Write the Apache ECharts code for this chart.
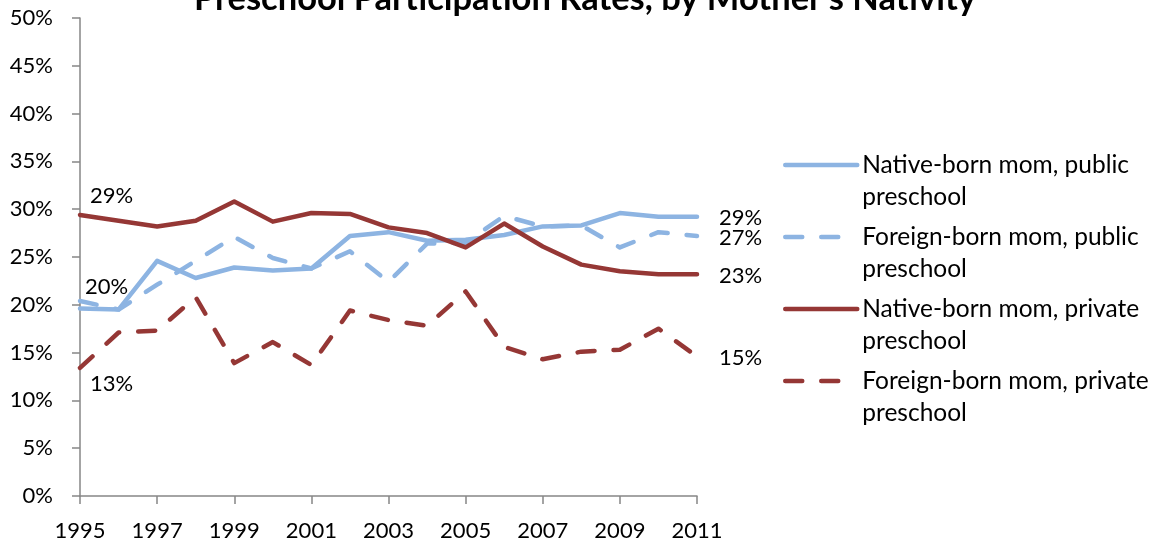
<!DOCTYPE html>
<html>
<head>
<meta charset="utf-8">
<script src="https://cdn.jsdelivr.net/npm/echarts@6/dist/echarts.min.js"></script>
<style>
  html, body { margin: 0; padding: 0; background: #fff; }
  #main { width: 1159px; height: 546px; }
</style>
</head>
<body>
<div id="main"></div>
<script>
// years on the x axis
const years = ["1995", "1996", "1997", "1998", "1999", "2000", "2001", "2002", "2003",
  "2004", "2005", "2006", "2007", "2008", "2009", "2010", "2011"];

// participation rates, percent
const nativePublic = [19.6, 19.5, 24.6, 22.8, 23.9, 23.6, 23.8, 27.2, 27.6, 26.7, 26.8, 27.3, 28.2, 28.3, 29.6, 29.2, 29.2];
const foreignPublic = [20.4, 19.5, 22.1, 24.6, 27.1, 24.9, 23.8, 25.6, 22.4, 26.4, 26.5, 29.3, 28.2, 28.3, 26.0, 27.6, 27.2];
const nativePrivate = [29.4, 28.8, 28.2, 28.8, 30.8, 28.7, 29.6, 29.5, 28.1, 27.5, 26.0, 28.5, 26.1, 24.2, 23.5, 23.2, 23.2];
const foreignPrivate = [13.4, 17.1, 17.3, 20.8, 13.9, 16.1, 13.7, 19.4, 18.4, 17.8, 21.4, 15.6, 14.3, 15.1, 15.3, 17.5, 14.6];

const seriesNames = [
  "Native-born mom, public preschool",
  "Foreign-born mom, public preschool",
  "Native-born mom, private preschool",
  "Foreign-born mom, private preschool"
];

const FONT = "Lato";
const blue = "#8db4e2";
const red = "#953735";
const dash = [17, 19];

// first / last point labels
function withLabels(vals, first, lastOffset) {
  return vals.map(function (v, i) {
    if (i === 0 && first) {
      return { value: v, label: { show: true, position: "right", distance: first.distance, offset: first.offset } };
    }
    if (i === vals.length - 1) {
      return { value: v, label: { show: true, position: "right", distance: 22, offset: [0, lastOffset] } };
    }
    return v;
  });
}

function lineSeries(name, vals, color, type, first, lastOffset) {
  return {
    name: name,
    type: "line",
    symbol: "circle",
    symbolSize: 0,
    showAllSymbol: true,
    lineStyle: { color: color, width: 4.5, type: type, cap: "round", join: "round" },
    itemStyle: { color: color },
    label: {
      show: false,
      color: "#000",
      fontFamily: FONT,
      fontSize: 22,
      formatter: function (p) { return Math.round(p.value) + "%"; }
    },
    data: withLabels(vals, first, lastOffset)
  };
}

let myChart = echarts.init(document.getElementById("main"));

let option = {
  backgroundColor: "#fff",
  animation: false,
  title: {
    text: "Preschool Participation Rates, by Mother's Nativity",
    left: 580,
    textAlign: "center",
    top: -24,
    textStyle: { fontFamily: FONT, fontSize: 34.5, fontWeight: "bold", color: "#000" }
  },
  grid: { left: 80, right: 462, top: 18, bottom: 50, containLabel: false },
  legend: {
    orient: "vertical",
    left: 783,
    top: 117,
    padding: 0,
    itemWidth: 72,
    itemHeight: 14,
    itemGap: -24,
    itemStyle: { opacity: 0 },
    lineStyle: { width: 4.5, cap: "round" },
    data: seriesNames,
    // blank first line keeps the icon level with the first text line
    formatter: function (name) { return " \n" + name.replace(" preschool", "\npreschool"); },
    textStyle: {
      fontFamily: FONT,
      fontSize: 24.5,
      lineHeight: 32,
      color: "#000"
    }
  },
  xAxis: {
    type: "category",
    data: years,
    boundaryGap: false,
    axisLine: { lineStyle: { color: "#868686", width: 1.5 } },
    axisTick: { show: true, length: 8, interval: 1, lineStyle: { color: "#868686", width: 1.5 } },
    axisLabel: { interval: 1, margin: 24, fontFamily: FONT, fontSize: 22, color: "#000" },
    splitLine: { show: false }
  },
  yAxis: {
    type: "value",
    min: 0,
    max: 50,
    interval: 5,
    axisLine: { show: true, lineStyle: { color: "#868686", width: 1.5 } },
    axisTick: { show: true, length: 8, lineStyle: { color: "#868686", width: 1.5 } },
    axisLabel: { margin: 27, fontFamily: FONT, fontSize: 22, color: "#000", formatter: "{value}%" },
    splitLine: { show: false }
  },
  series: [
    lineSeries(seriesNames[0], nativePublic, blue, "solid", null, 1),
    lineSeries(seriesNames[1], foreignPublic, blue, dash, { distance: 5, offset: [0, -14] }, 2),
    lineSeries(seriesNames[2], nativePrivate, red, "solid", { distance: 10, offset: [0, -19] }, 2),
    lineSeries(seriesNames[3], foreignPrivate, red, dash, { distance: 10, offset: [0, 16] }, 1)
  ]
};

myChart.setOption(option);
</script>
</body>
</html>
